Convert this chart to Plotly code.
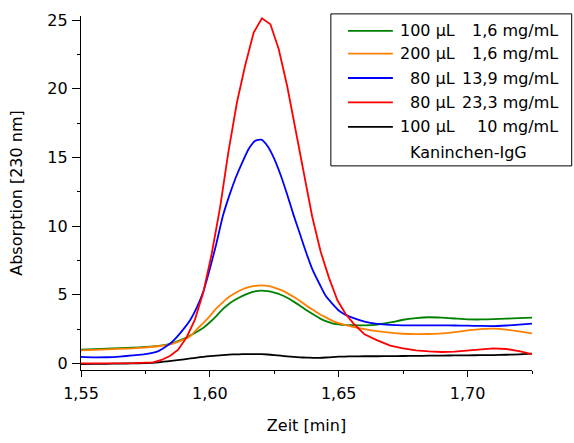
import plotly.graph_objects as go

# Time axis (min) for the smooth traces
zeit = [1.550, 1.555, 1.560, 1.565, 1.570, 1.575, 1.580, 1.585, 1.590, 1.5925,
        1.595, 1.5975, 1.600, 1.6025, 1.605, 1.6075, 1.610, 1.6125, 1.615, 1.6175,
        1.620, 1.6225, 1.625, 1.6275, 1.630, 1.6325, 1.635, 1.6375, 1.640, 1.6425,
        1.645, 1.6475, 1.650, 1.6525, 1.655, 1.660, 1.665, 1.670, 1.675, 1.680,
        1.685, 1.690, 1.695, 1.700, 1.705, 1.710, 1.715, 1.720, 1.725]

gruen_100ul_1_6 = [1.00, 1.03, 1.07, 1.11, 1.15, 1.20, 1.28, 1.45, 1.80, 2.05,
                   2.30, 2.60, 3.00, 3.45, 3.95, 4.35, 4.65, 4.90, 5.10, 5.24,
                   5.30, 5.26, 5.15, 5.00, 4.78, 4.50, 4.20, 3.87, 3.58, 3.30,
                   3.08, 2.92, 2.85, 2.80, 2.78, 2.77, 2.83, 2.98, 3.18, 3.30,
                   3.36, 3.33, 3.27, 3.21, 3.20, 3.22, 3.26, 3.30, 3.34]

orange_200ul_1_6 = [0.95, 0.98, 1.02, 1.06, 1.10, 1.16, 1.25, 1.40, 1.75, 2.00,
                    2.50, 2.95, 3.45, 4.00, 4.45, 4.85, 5.15, 5.38, 5.55, 5.65,
                    5.69, 5.65, 5.52, 5.35, 5.12, 4.85, 4.55, 4.20, 3.90, 3.60,
                    3.35, 3.10, 2.93, 2.80, 2.68, 2.50, 2.35, 2.24, 2.16, 2.13,
                    2.14, 2.18, 2.28, 2.40, 2.50, 2.53, 2.46, 2.33, 2.18]

blau_80ul_13_9 = [0.47, 0.44, 0.45, 0.50, 0.58, 0.68, 0.90, 1.50, 2.55, 3.20,
                  4.10, 5.25, 6.90, 8.70, 10.7, 12.2, 13.5, 14.6, 15.6, 16.2,
                  16.3, 15.8, 14.9, 13.7, 12.3, 10.8, 9.4, 8.0, 6.75, 5.8,
                  4.9, 4.35, 3.85, 3.55, 3.35, 3.05, 2.88, 2.80, 2.77, 2.77,
                  2.77, 2.77, 2.76, 2.75, 2.73, 2.72, 2.76, 2.82, 2.89]

schwarz_100ul_10 = [-0.05, -0.04, -0.03, -0.01, 0.00, 0.02, 0.08, 0.18, 0.30, 0.36,
                    0.42, 0.48, 0.53, 0.57, 0.61, 0.64, 0.66, 0.67, 0.68, 0.68,
                    0.67, 0.65, 0.61, 0.56, 0.51, 0.47, 0.44, 0.42, 0.41, 0.41,
                    0.43, 0.46, 0.49, 0.50, 0.51, 0.52, 0.52, 0.53, 0.54, 0.55,
                    0.56, 0.57, 0.58, 0.59, 0.60, 0.61, 0.63, 0.66, 0.71]

# Red trace: its own sampling (visible vertices around the peak)
zeit_rot = [1.550, 1.560, 1.570, 1.578, 1.5812, 1.5845, 1.5877, 1.591, 1.5942, 1.5975,
            1.6007, 1.604, 1.6072, 1.6105, 1.6137, 1.617, 1.6202, 1.6235, 1.6267, 1.630,
            1.6332, 1.6365, 1.6397, 1.643, 1.6462, 1.6495, 1.6527, 1.656, 1.660, 1.665,
            1.670, 1.675, 1.680, 1.685, 1.690, 1.695, 1.700, 1.705, 1.710, 1.715,
            1.720, 1.725]
rot_80ul_23_3 = [0.00, 0.00, 0.02, 0.08, 0.25, 0.54, 1.00, 1.91, 3.19, 5.20,
                 7.97, 11.4, 15.4, 19.0, 21.7, 24.1, 25.13, 24.7, 22.9, 20.2,
                 17.1, 13.8, 10.7, 8.13, 6.25, 4.6, 3.6, 2.85, 2.12, 1.68,
                 1.30, 1.10, 0.95, 0.87, 0.83, 0.86, 0.95, 1.05, 1.09, 1.05,
                 0.90, 0.68]

volumen = ["100 µL", "200 µL", "80 µL", "80 µL", "100 µL"]
konzentration = ["1,6 mg/mL", "1,6 mg/mL", "13,9 mg/mL", "23,3 mg/mL", "10 mg/mL"]
farben = ["#008000", "#FF8000", "#0000FF", "#FF0000", "#000000"]
serien_x = [zeit, zeit, zeit, zeit_rot, zeit]
serien = [gruen_100ul_1_6, orange_200ul_1_6, blau_80ul_13_9, rot_80ul_23_3, schwarz_100ul_10]
linienform = ["spline", "spline", "spline", "linear", "spline"]
legenden_titel = "Kaninchen-IgG"

fig = go.Figure()
draw_order = [4, 0, 1, 2, 3]
for i in draw_order:
    line = dict(color=farben[i], width=1.8, shape=linienform[i])
    if linienform[i] == "spline":
        line["smoothing"] = 0.5
    fig.add_trace(go.Scatter(
        x=serien_x[i], y=serien[i], mode="lines",
        name=volumen[i] + " " + konzentration[i],
        line=line, showlegend=False, hoverinfo="skip",
    ))

# manual legend box (paper coordinates)
shapes = [dict(type="rect", xref="paper", yref="paper", x0=0.554, x1=1.088, y0=0.5766, y1=1.006,
               line=dict(color="black", width=1), fillcolor="white", layer="above")]
annotations = []
row_y = [0.958, 0.8938, 0.8248, 0.7559, 0.6869]
for i in range(5):
    shapes.append(dict(type="line", xref="paper", yref="paper", x0=0.592, x1=0.6915,
                       y0=row_y[i], y1=row_y[i], line=dict(color=farben[i], width=1.8), layer="above"))
    annotations.append(dict(xref="paper", yref="paper", x=0.8333, y=row_y[i], text=volumen[i],
                            showarrow=False, xanchor="right", yanchor="middle",
                            font=dict(size=16, color="black")))
    annotations.append(dict(xref="paper", yref="paper", x=1.0613, y=row_y[i], text=konzentration[i],
                            showarrow=False, xanchor="right", yanchor="middle",
                            font=dict(size=16, color="black")))
annotations.append(dict(xref="paper", yref="paper", x=0.86, y=0.6132, text=legenden_titel,
                        showarrow=False, xanchor="center", yanchor="middle",
                        font=dict(size=16, color="black")))

fig.update_layout(
    width=574, height=443,
    margin=dict(l=81, r=42, t=11, b=69),
    paper_bgcolor="white", plot_bgcolor="white",
    separators=",.",
    font=dict(family="DejaVu Sans", size=16, color="black"),
    showlegend=False,
    shapes=shapes,
    annotations=annotations,
    xaxis=dict(
        range=[1.55, 1.725], tick0=1.55, dtick=0.05, tickformat=".2f",
        ticks="outside", ticklen=6, tickwidth=1.2, tickcolor="black",
        showline=True, linecolor="black", linewidth=1.3,
        showgrid=False, zeroline=False, ticklabelstandoff=3,
        minor=dict(dtick=0.025, ticks="outside", ticklen=3, tickwidth=1.2, tickcolor="black", showgrid=False),
        title=dict(text="Zeit [min]", standoff=17, font=dict(size=16)),
    ),
    yaxis=dict(
        range=[-0.48, 25.3], tick0=0, dtick=5,
        ticks="outside", ticklen=8, tickwidth=1.2, tickcolor="black",
        showline=True, linecolor="black", linewidth=1.3,
        showgrid=False, zeroline=False, ticklabelstandoff=1,
        minor=dict(dtick=2.5, ticks="outside", ticklen=3, tickwidth=1.2, tickcolor="black", showgrid=False),
        title=dict(text="Absorption [230 nm]", standoff=20, font=dict(size=16)),
    ),
)

fig.write_html("out.html", config={"displayModeBar": False},
               post_script="document.body.style.margin='0';")
